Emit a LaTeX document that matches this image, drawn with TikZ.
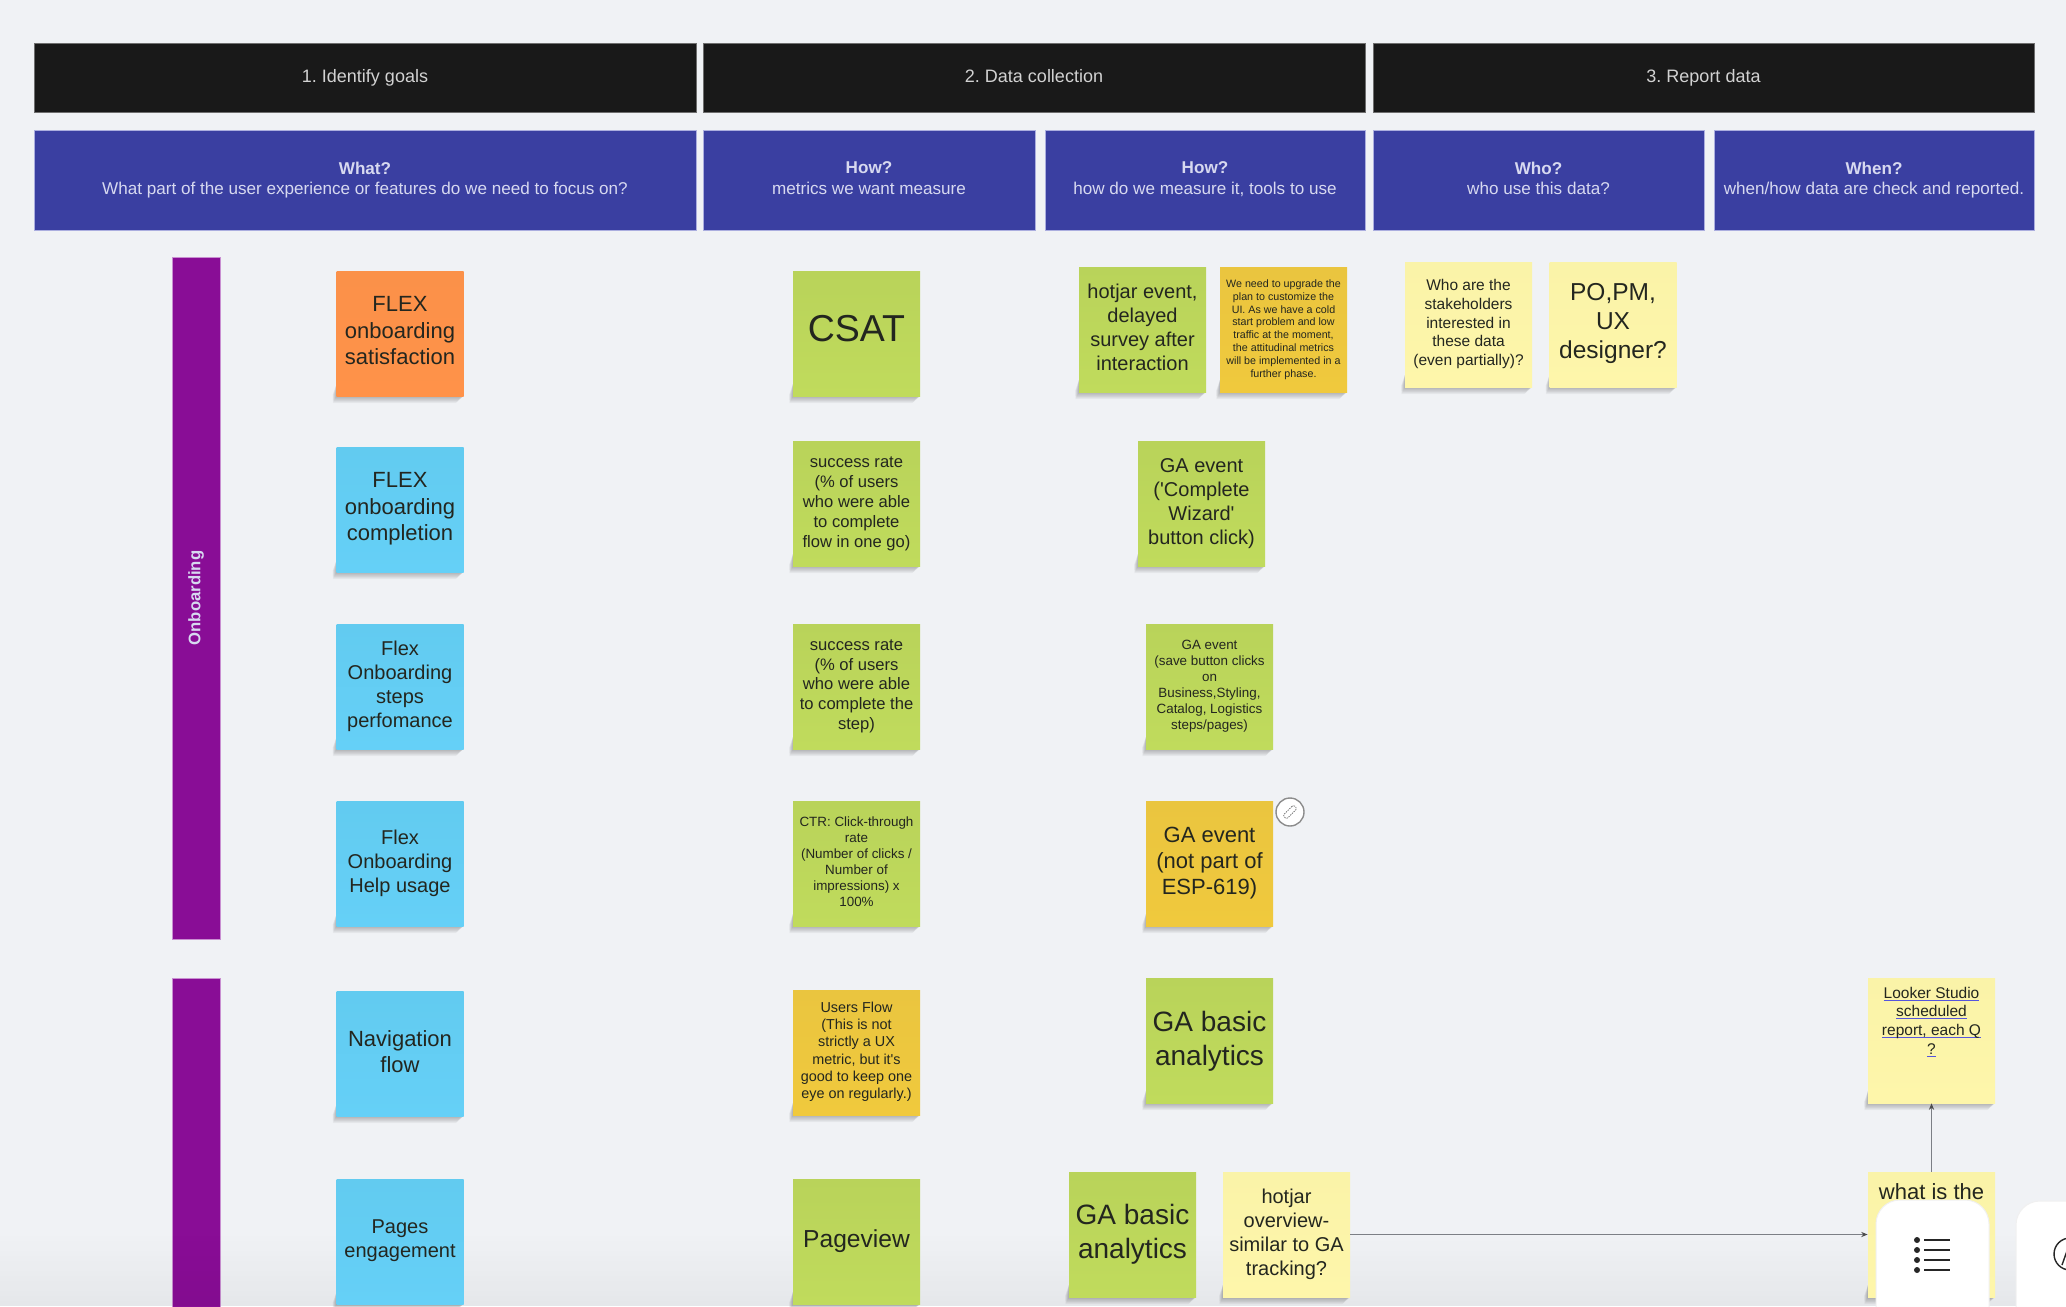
\documentclass[tikz,border=0pt]{standalone}
\usepackage{fontspec}
\setmainfont{Liberation Sans}[Ligatures=TeXOff]
\frenchspacing
\definecolor{bgc}{HTML}{F0F2F5}
\definecolor{blackbar}{HTML}{191919}
\definecolor{blackedge}{HTML}{6E6E6E}
\definecolor{bluebar}{HTML}{3A3FA1}
\definecolor{blueedge}{HTML}{ABAEDF}
\definecolor{purplebar}{HTML}{890D96}
\definecolor{purpleedge}{HTML}{C98FD1}
\definecolor{orangeA}{HTML}{FB9149}\definecolor{orangeB}{HTML}{FF9249}
\definecolor{skyA}{HTML}{62CBF0}\definecolor{skyB}{HTML}{65D0F7}
\definecolor{greenA}{HTML}{B9D35A}\definecolor{greenB}{HTML}{C0DB5C}
\definecolor{amberA}{HTML}{EAC53F}\definecolor{amberB}{HTML}{F0C93D}
\definecolor{yellowA}{HTML}{FAF3A8}\definecolor{yellowB}{HTML}{FEF6AA}
\definecolor{inkc}{HTML}{23261F}
\definecolor{linkc}{HTML}{5555DD}
\definecolor{connc}{HTML}{7C7F85}
\definecolor{headtext}{HTML}{D2D2D2}
\definecolor{bluetext}{HTML}{D7D9F0}
\newcommand{\lk}[1]{\setbox0\hbox{#1}\rlap{\textcolor{linkc}{\rule[-1.3pt]{\wd0}{0.55pt}}}\box0}
\newcommand{\fpx}[1]{\fontsize{\dimexpr#1pt/2\relax}{\dimexpr#1pt*6/10\relax}\selectfont}
\newcommand{\vp}{\vphantom{(y}}
\tikzset{
  x=0.5pt,y=-0.5pt,
  head/.style={fill=blackbar,draw=blackedge,line width=0.3pt,inner sep=0pt,text=headtext,align=center,font=\fpx{18}},
  sub/.style={fill=bluebar,draw=blueedge,line width=0.3pt,inner sep=0pt,text=bluetext,align=center,font=\fpx{17.1}},
  band/.style={fill=purplebar,draw=purpleedge,line width=0.3pt,inner sep=0pt},
  body/.style={rectangle,inner sep=0pt,minimum width=63.5pt,minimum height=62.5pt},
  stA/.style={top color=orangeA,middle color=orangeB,bottom color=orangeB},
  stB/.style={top color=skyA,middle color=skyB,bottom color=skyB},
  stC/.style={top color=greenA,middle color=greenB,bottom color=greenB},
  stD/.style={top color=amberA,middle color=amberB,bottom color=amberB},
  stE/.style={top color=yellowA,middle color=yellowB,bottom color=yellowB},
  note/.style={inner sep=0pt,align=center,text=inkc},
  conn/.style={draw=connc,line width=0.5pt,-{Stealth[length=3.2pt,width=2.6pt,color=black!70]}},
  panel/.style={fill=white,draw=black!6,line width=0.5pt,rounded corners=12pt},
  listbar/.style={line width=0.85pt,draw=black!85},
}
\usetikzlibrary{arrows.meta}
% name, x0, y0, style, font px, text shift, text
\newcommand{\sticky}[7]{%
  \pgfmathsetmacro{\xa}{#2}\pgfmathsetmacro{\xb}{#2+127}\pgfmathsetmacro{\yb}{#3+125}%
  \foreach \k in {1,...,8}{%
    \fill[black,opacity=0.035] (\xa,\yb-12) -- (\xa-0.5*\k,\yb-1) -- (\xa-0.45*\k,\yb+0.9*\k) -- (\xb-3-0.6*\k,\yb+0.9*\k) -- (\xb,\yb) -- cycle;
  }%
  \node[body,#4] (#1) at (#2+63.5,#3+62.5) {};
  \node[note,font=\fpx{#5}] (#1t) at ([yshift=#6*0.5pt]#1.center) {#7};
}
\begin{document}
\begin{tikzpicture}
\useasboundingbox (0,0) rectangle (2066,1306);
\clip (0,0) rectangle (2066,1306);
\fill[bgc] (0,0) rectangle (2066,1306);

% top headers
\node[head,minimum width=331pt,minimum height=34.5pt] (h1) at (365,77.5) {1. Identify goals\vp};
\node[head,minimum width=331pt,minimum height=34.5pt] (h2) at (1034,77.5) {2. Data collection\vp};
\node[head,minimum width=330.5pt,minimum height=34.5pt] (h3) at (1703.5,77.5) {3. Report data\vp};

% sub headers
\node[sub,minimum width=331pt,minimum height=50pt] (s1) at (365,180) {\textbf{What?}\\What part of the user experience or features do we need to focus on?\vp};
\node[sub,minimum width=166pt,minimum height=50pt] (s2) at (869,180) {\textbf{How?}\\metrics we want measure\vp};
\node[sub,minimum width=160pt,minimum height=50pt] (s3) at (1205,180) {\textbf{How?}\\how do we measure it, tools to use\vp};
\node[sub,minimum width=165.5pt,minimum height=50pt] (s4) at (1538.5,180) {\textbf{Who?}\\who use this data?\vp};
\node[sub,minimum width=160pt,minimum height=50pt] (s5) at (1874,180) {\textbf{When?}\\when/how data are check and reported.\vp};

% purple bands
\node[band,minimum width=24pt,minimum height=341pt] (b1) at (196,598) {};
\node[text=bluetext,font=\bfseries\fpx{16.7},rotate=90,inner sep=0pt] (b1t) at (b1.center) {Onboarding};
\node[band,minimum width=24pt,minimum height=200pt] (b2) at (196,1178) {};

% bottom vignette
\foreach \i in {0,...,14}{
  \fill[black,opacity=0.003*\i] (0,1231+5*\i) rectangle (2066,1236+5*\i);
}

% column 1
\sticky{a1}{336.5}{271}{stA}{22}{2.7}{FLEX\\onboarding\\satisfaction}
\sticky{a2}{336.5}{447}{stB}{22}{0.4}{FLEX\\onboarding\\completion}
\sticky{a3}{336.5}{624}{stB}{20}{0.4}{Flex\\Onboarding\\steps\\perfomance}
\sticky{a4}{336.5}{801}{stB}{20}{0.4}{Flex\\Onboarding\\Help usage}
\sticky{a5}{336.5}{991}{stB}{22}{1.7}{Navigation\\flow}
\sticky{a6}{336.5}{1179}{stB}{20}{0.4}{Pages\\engagement}

% column 2
\sticky{m1}{793}{271}{stC}{37.5}{5}{CSAT}
\sticky{m2}{793}{441}{stC}{16.6}{-0.6}{success rate\\(\% of users\\who were able\\to complete\\flow in one go)}
\sticky{m3}{793}{624}{stC}{16.6}{0.2}{success rate\\(\% of users\\who were able\\to complete the\\step)}
\sticky{m4}{793}{801}{stC}{13.4}{2}{CTR: Click-through\\rate\\(Number of clicks /\\Number of\\impressions) x\\100\%}
\sticky{m5}{793}{990}{stD}{14.4}{0.7}{Users Flow\\(This is not\\strictly a UX\\metric, but it's\\good to keep one\\eye on regularly.)}
\sticky{m6}{793}{1179}{stC}{24.6}{0.4}{Pageview}

% column 3
\sticky{t1}{1079}{267}{stC}{20}{1.7}{hotjar event,\\delayed\\survey after\\interaction}
\sticky{t2}{1220}{267}{stD}{10.7}{0}{We need to upgrade the\\plan to customize the\\UI. As we have a cold\\start problem and low\\traffic at the moment,\\the attitudinal metrics\\will be implemented in a\\further phase.}
\sticky{t3}{1138}{441}{stC}{20}{0}{GA event\\('Complete\\Wizard'\\button click)}
\sticky{t4}{1146}{624}{stC}{13.4}{0.4}{GA event\\(save button clicks\\on\\Business,Styling,\\Catalog, Logistics\\steps/pages)}
\sticky{t5}{1146}{801}{stD}{22}{0.4}{GA event\\(not part of\\ESP-619)}
\sticky{t6}{1146}{978}{stC}{28}{-1}{GA basic\\analytics}
\sticky{t7}{1069}{1172}{stC}{28}{0.4}{GA basic\\analytics}
\sticky{t8}{1223}{1172}{stE}{20}{0.4}{hotjar\\overview-\\similar to GA\\tracking?}

% column 4 / 5
\sticky{w1}{1405}{262}{stE}{15.5}{0.4}{Who are the\\stakeholders\\interested in\\these data\\(even partially)?}
\sticky{w2}{1549.5}{262}{stE}{24.5}{1}{PO,PM,\\UX\\designer?}
\sticky{r1}{1868}{978}{stE}{15.5}{18.7}{\lk{Looker Studio}\\\lk{scheduled}\\\lk{report, each Q}\\\lk{?}}
\sticky{r2}{1868}{1172}{stE}{22}{43}{what is the}

% connectors
\draw[conn] (t8.east) -- (r2.west);
\draw[conn] (r2.north) -- (r1.south);

% link badge
\node[circle,fill=white,draw=black!45,line width=0.7pt,minimum size=14pt,inner sep=0pt] (lnk) at (1290,812) {};
\node[rectangle,rounded corners=1pt,draw=black!60,dashed,dash pattern=on 0.7pt off 0.5pt,line width=0.35pt,minimum width=7.5pt,minimum height=2.6pt,inner sep=0pt,rotate=45] (lnki) at (lnk.center) {};

% floating white panels
\draw[panel] (1876,1360) -- (1876,1200) -- (1989,1200) -- (1989,1360);
\draw[panel] (2016,1360) -- (2016,1201) -- (2100,1201) -- (2100,1360);
\foreach \yy in {1240,1250,1260,1270}{
  \fill[black!85] (1917,\yy) circle[radius=3];
  \draw[listbar] (1924,\yy) -- (1950,\yy);
}
\draw[black!85,line width=0.7pt] (2070,1254) circle[radius=16];
\draw[black!85,line width=0.7pt] (2062,1265) -- (2068,1248);
\end{tikzpicture}
\end{document}
